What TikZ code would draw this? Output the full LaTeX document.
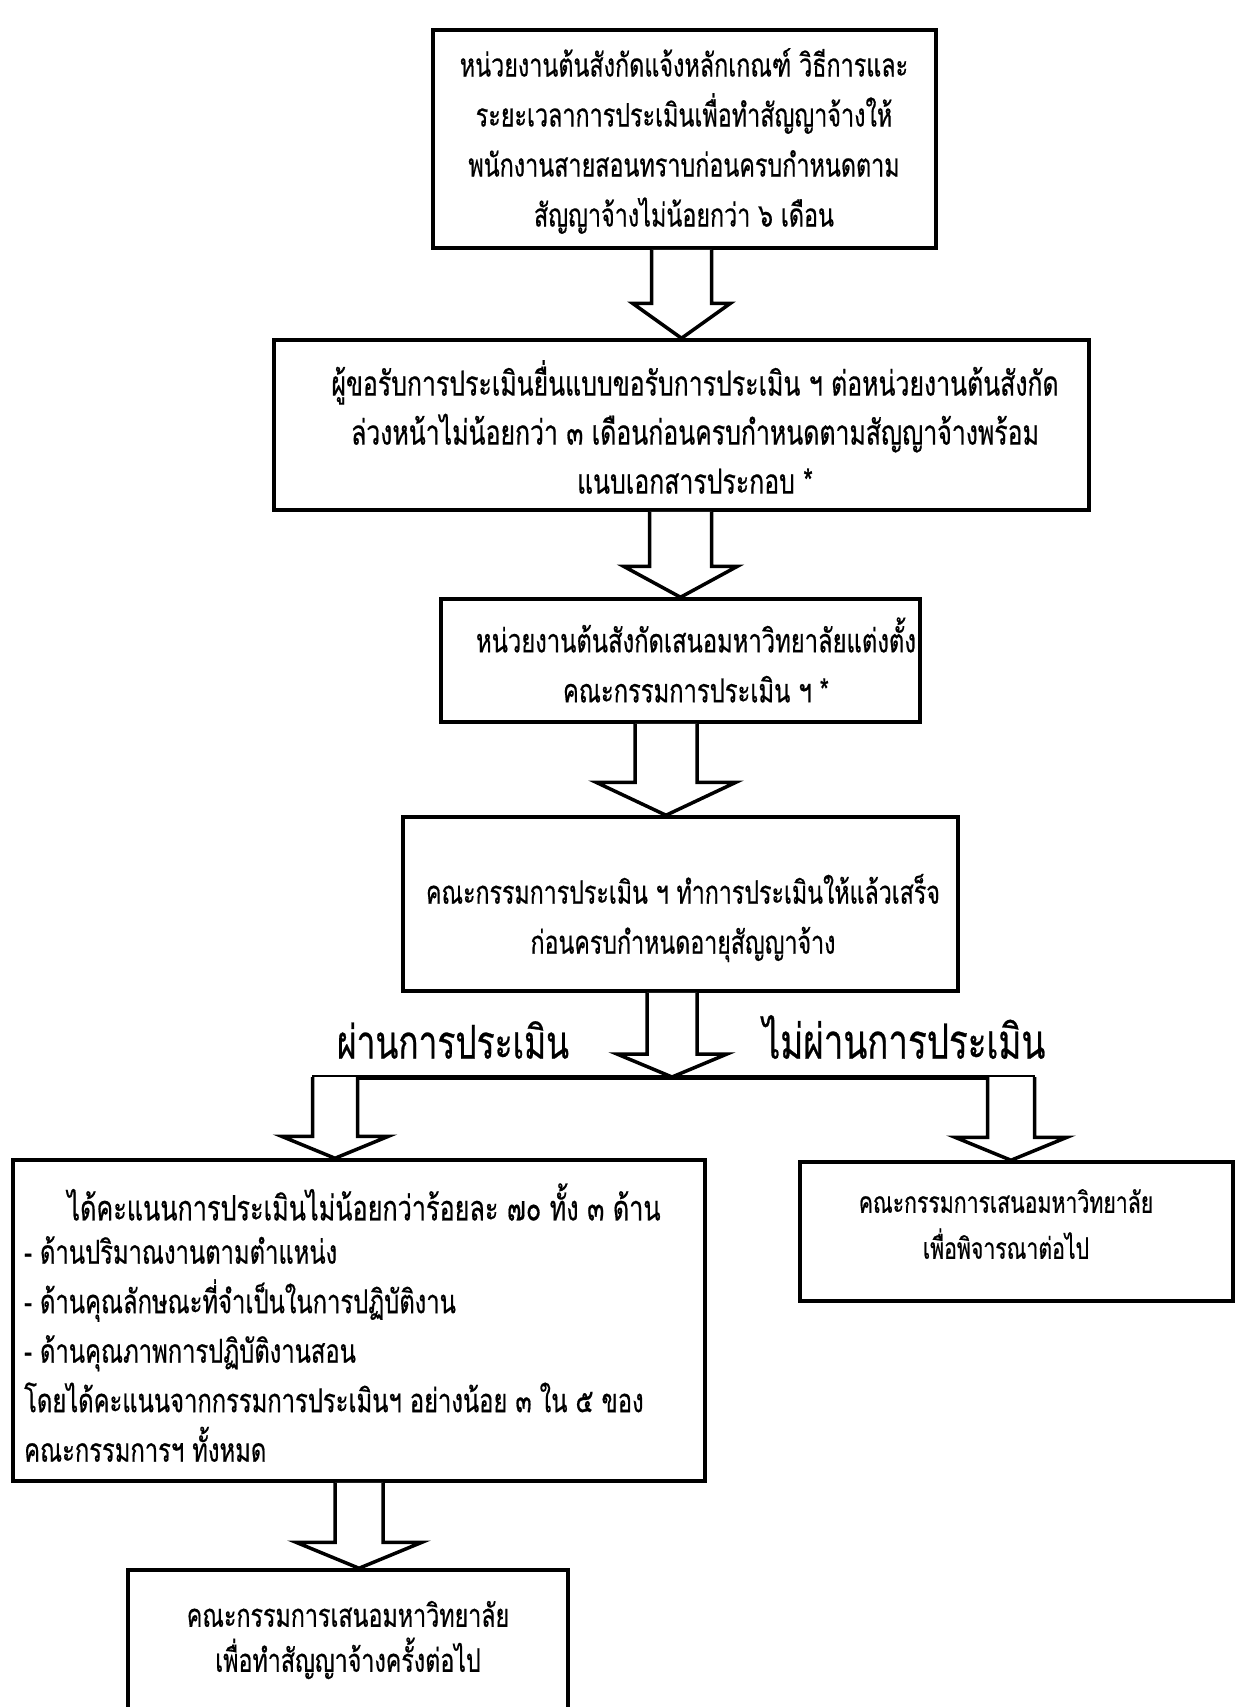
\documentclass[tikz,border=0pt]{standalone}
\usepackage{fontspec}
\newfontfamily\thai[Script=Thai,FakeStretch=0.72,FakeBold=0.5]{Loma}
\usetikzlibrary{calc}
\tikzset{
  box/.style={draw, line width=3.5pt, inner sep=0pt},
  txt/.style={inner sep=0pt, align=center},
  arrowline/.style={draw, line width=3.5pt, line join=miter, fill=white},
  barline/.style={line width=5pt},
}
\newcommand\fs[2]{\thai\fontsize{#1}{#2}\selectfont}
\newcommand\blockarrow[5]{%
  \draw[arrowline] let \p1=(#1), \p2=(#2) in
    (\x2-#3,\y1) -- (\x2-#3,\y2+#5) -- (\x2-#4,\y2+#5) -- (\x2,\y2)
    -- (\x2+#4,\y2+#5) -- (\x2+#3,\y2+#5) -- (\x2+#3,\y1);}
\begin{document}
\begin{tikzpicture}[x=1pt,y=-1pt]
\useasboundingbox (0,0) rectangle (1237,1707);
% boxes
\node[box, minimum width=503pt, minimum height=218pt] (b1) at (684.5,139) {};
\node[box, minimum width=815pt, minimum height=170pt] (b2) at (681.5,425) {};
\node[box, minimum width=479pt, minimum height=123pt] (b3) at (680.5,660.5) {};
\node[box, minimum width=555pt, minimum height=174pt] (b4) at (680.5,904) {};
\node[box, minimum width=692pt, minimum height=321pt] (b5) at (359,1320.5) {};
\node[box, minimum width=433pt, minimum height=139pt] (b6) at (1016.5,1231.5) {};
\node[box, minimum width=440pt, minimum height=150pt] (b7) at (348,1645) {};
% texts
\node[txt, font=\fs{32.4}{50}] (t1) at (684,141) {หน่วยงานต้นสังกัดแจ้งหลักเกณฑ์ วิธีการและ\\ระยะเวลาการประเมินเพื่อทำสัญญาจ้างให้\\พนักงานสายสอนทราบก่อนครบกำหนดตาม\\สัญญาจ้างไม่น้อยกว่า ๖ เดือน};
\node[txt, font=\fs{34.5}{49}] (t2) at (695,427) {ผู้ขอรับการประเมินยื่นแบบขอรับการประเมิน ฯ ต่อหน่วยงานต้นสังกัด\\ล่วงหน้าไม่น้อยกว่า ๓ เดือนก่อนครบกำหนดตามสัญญาจ้างพร้อม\\แนบเอกสารประกอบ *};
\node[txt, font=\fs{33}{50}] (t3) at (696,660) {หน่วยงานต้นสังกัดเสนอมหาวิทยาลัยแต่งตั้ง\\คณะกรรมการประเมิน ฯ *};
\node[txt, font=\fs{32.2}{50}] (t4) at (683,918) {คณะกรรมการประเมิน ฯ ทำการประเมินให้แล้วเสร็จ\\ก่อนครบกำหนดอายุสัญญาจ้าง};
\node[txt, font=\fs{35}{49.5}] (t5a) at (364,1202) {ได้คะแนนการประเมินไม่น้อยกว่าร้อยละ ๗๐ ทั้ง ๓ ด้าน};
\node[txt, align=left, anchor=west, font=\fs{33}{49.5}] (t5b) at (24,1349) {- ด้านปริมาณงานตามตำแหน่ง\\- ด้านคุณลักษณะที่จำเป็นในการปฏิบัติงาน\\- ด้านคุณภาพการปฏิบัติงานสอน\\โดยได้คะแนนจากกรรมการประเมินฯ อย่างน้อย ๓ ใน ๕ ของ\\คณะกรรมการฯ ทั้งหมด};
\node[txt, font=\fs{29.5}{46}] (t6) at (1006,1224) {คณะกรรมการเสนอมหาวิทยาลัย\\เพื่อพิจารณาต่อไป};
\node[txt, font=\fs{32.3}{45}] (t7) at (348,1640) {คณะกรรมการเสนอมหาวิทยาลัย\\เพื่อทำสัญญาจ้างครั้งต่อไป};
\node[txt, font=\fs{46.5}{50}] (lp) at (453,1040) {ผ่านการประเมิน};
\node[txt, font=\fs{48.5}{50}] (lf) at (904,1037) {ไม่ผ่านการประเมิน};
% connectors
\coordinate (tip3) at ($(b4.north)+(-14.5,0)$);
\coordinate (bar) at (672,1077);
\coordinate (barL) at (312,1077);
\coordinate (barR) at (1035,1077);
\coordinate (tip5) at ($(b5.north)+(-24,0)$);
\coordinate (tip6) at ($(b6.north)+(-5.5,0)$);
\coordinate (tip7) at ($(b7.north)+(11,0)$);
\blockarrow{b1.south}{b2.north}{30pt}{49pt}{35pt}
\blockarrow{b2.south}{b3.north}{31pt}{57pt}{31pt}
\blockarrow{b3.south}{tip3}{31pt}{70pt}{33pt}
\blockarrow{b4.south}{bar}{25pt}{55pt}{23pt}
\draw[barline] (barL) -- (barR);
\blockarrow{barL}{tip5}{22.5pt}{53.5pt}{22pt}
\blockarrow{barR}{tip6}{23.5pt}{56pt}{23pt}
\blockarrow{b5.south}{tip7}{24pt}{63pt}{26pt}
\end{tikzpicture}
\end{document}
